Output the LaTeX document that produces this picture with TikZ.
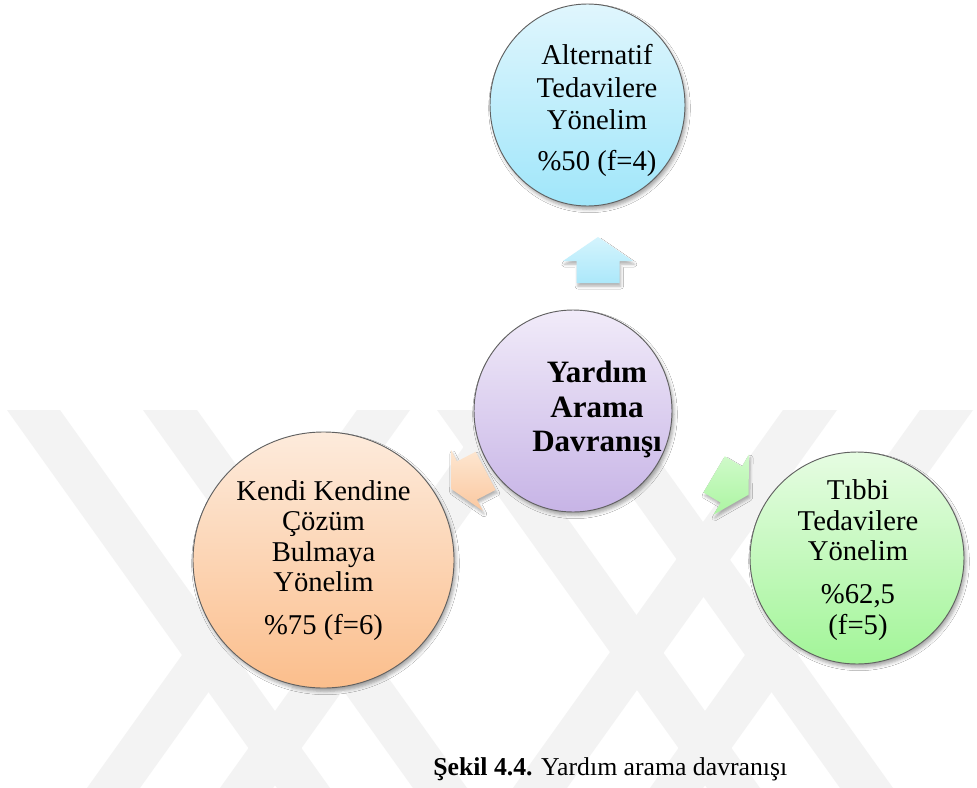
\documentclass[tikz,border=0pt]{standalone}
\usepackage{fontspec}
\setmainfont{Liberation Serif}
\usetikzlibrary{shapes.geometric,shadows.blur}

% fills of the four bubbles (light top, deeper bottom)
\definecolor{blueTop}{RGB}{224,246,253}
\definecolor{blueBot}{RGB}{160,230,250}
\definecolor{lilacTop}{RGB}{241,235,249}
\definecolor{lilacBot}{RGB}{199,180,230}
\definecolor{peachTop}{RGB}{253,235,220}
\definecolor{peachBot}{RGB}{251,190,140}
\definecolor{mintTop}{RGB}{230,252,226}
\definecolor{mintBot}{RGB}{162,245,152}
% block arrows
\definecolor{blueArrTop}{RGB}{212,244,253}
\definecolor{blueArrBot}{RGB}{172,232,250}
\definecolor{peachArrTop}{RGB}{253,230,208}
\definecolor{peachArrBot}{RGB}{251,200,160}
\definecolor{mintArrTop}{RGB}{208,250,202}
\definecolor{mintArrBot}{RGB}{172,245,162}
% background stripes
\definecolor{stripe}{RGB}{243,243,243}

\begin{document}
\begin{tikzpicture}[x=0.75pt, y=-0.75pt,
  bubble/.style={ellipse, draw=black!62, line width=0.7pt, inner sep=0pt,
    blur shadow={shadow xshift=1.5pt, shadow yshift=-2.5pt,
                 shadow blur radius=2.5pt, shadow opacity=35}},
  blockarrow/.style={blur shadow={shadow xshift=1pt, shadow yshift=-2.5pt,
                 shadow blur radius=2pt, shadow opacity=30}},
  label/.style={align=center, inner sep=0pt, text=black},
  plain/.style={label, font=\fontsize{21.5}{22.9}\selectfont},
  band/.style={fill=stripe, draw=none}
]
\useasboundingbox (0,0) rectangle (977,788);
\fill[white] (0,0) rectangle (977,788);

% light diagonal stripes in the lower half
\fill[band] (7,410) -- (60,410) -- (330,788) -- (277,788) -- cycle;
\fill[band] (143,410) -- (197,410) -- (467,788) -- (413,788) -- cycle;
\fill[band] (920,410) -- (973,410) -- (703,788) -- (650,788) -- cycle;
\fill[band] (783,410) -- (837,410) -- (567,788) -- (513,788) -- cycle;
\fill[band] (87,788) -- (140,788) -- (410,410) -- (357,410) -- cycle;
\fill[band] (220,788) -- (273,788) -- (543,410) -- (490,410) -- cycle;
\fill[band] (840,788) -- (893,788) -- (623,410) -- (570,410) -- cycle;
\fill[band] (707,788) -- (760,788) -- (490,410) -- (437,410) -- cycle;

% block arrows pointing outwards from the centre
% (local frame: origin at the middle of the head base, tip along +x)
\begin{scope}[shift={(598,261)}, rotate=90]
  \path[blockarrow, top color=blueArrTop, bottom color=blueArrBot]
    (24,0) -- (0,35) -- (0,21.5) -- (-22,21.5) -- (-22,-21.5)
    -- (0,-21.5) -- (0,-35) -- cycle;
\end{scope}
\begin{scope}[shift={(467,480.5)}, rotate=207.5]
  \path[blockarrow, top color=peachArrTop, bottom color=peachArrBot]
    (18,0) -- (0,34) -- (0,21.5) -- (-21,21.5) -- (-21,-21.5)
    -- (0,-21.5) -- (0,-34) -- cycle;
\end{scope}
\begin{scope}[shift={(731.3,484.5)}, rotate=-30.5]
  \path[blockarrow, top color=mintArrTop, bottom color=mintArrBot]
    (20,0) -- (0,35) -- (0,21) -- (-20,21) -- (-20,-21)
    -- (0,-21) -- (0,-35) -- cycle;
\end{scope}

% bubbles
\node[bubble, top color=blueTop, bottom color=blueBot,
      minimum width=146.25pt, minimum height=151.5pt] (alt) at (587.5,105) {};
\node[bubble, top color=lilacTop, bottom color=lilacBot,
      minimum width=148.5pt, minimum height=151.5pt] (core) at (573,411) {};
\node[bubble, top color=peachTop, bottom color=peachBot,
      minimum width=195.75pt, minimum height=192pt] (self) at (323.5,560) {};
\node[bubble, top color=mintTop, bottom color=mintBot,
      minimum width=160.5pt, minimum height=159pt] (med) at (857,558) {};

% texts
\node[label, font=\fontsize{21.5}{24.4}\selectfont] (altText) at (597,110.5)
  {Alternatif\\Tedavilere\\Yönelim\\[6.4pt]\%50 (f=4)};
\node[label, font=\fontsize{23.3}{25.6}\selectfont\bfseries] (coreText) at (597,409.5)
  {Yardım\\Arama\\Davranışı};
\node[plain] (selfText) at (323.5,560.5)
  {Kendi Kendine\\Çözüm\\Bulmaya\\Yönelim\\[9.5pt]\%75 (f=6)};
\node[plain] (medText) at (858,560)
  {Tıbbi\\Tedavilere\\Yönelim\\[9.5pt]\%62,5\\(f=5)};

% caption
\node[anchor=base west, inner sep=0pt, font=\fontsize{19.3}{22}\selectfont]
  (caption) at (433,775.5) {\textbf{Şekil 4.4.} Yardım arama davranışı};
\end{tikzpicture}
\end{document}
